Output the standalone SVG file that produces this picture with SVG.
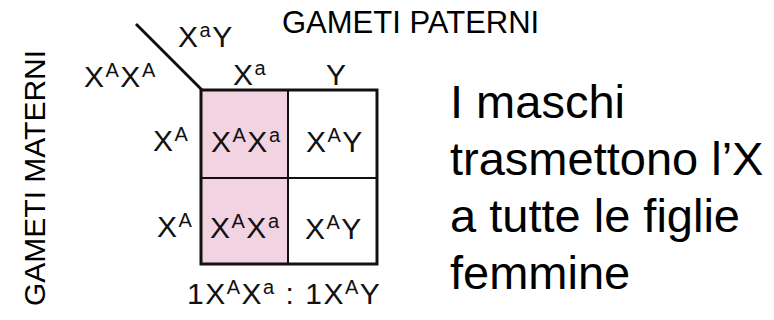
<svg xmlns="http://www.w3.org/2000/svg" width="774" height="320" viewBox="0 0 774 320">
<style>
.t{font-family:"Liberation Sans",Arial,sans-serif;fill:#000}
.lab{font-family:"Liberation Sans",Arial,sans-serif;font-size:30px;letter-spacing:1.5px;fill:#111}
.sup{font-size:20px}
.big{font-size:47px}
.hd{font-size:31px}
.vd{font-size:30px}
.ln{stroke:#111;fill:none}
</style>
<rect width="774" height="320" fill="#fff"/>
<g id="headings">
<text class="t hd" x="282" y="33">GAMETI PATERNI</text>
<text class="t vd" transform="translate(45,306) rotate(-90)">GAMETI MATERNI</text>
</g>
<g id="grid">
<rect x="201" y="90" width="87" height="174" fill="#f2d3e2"/>
<rect x="201" y="90" width="176" height="174" class="ln" stroke-width="3"/>
<line x1="288" y1="90" x2="288" y2="264" class="ln" stroke-width="2"/>
<line x1="201" y1="178" x2="377" y2="178" class="ln" stroke-width="2"/>
<line x1="136" y1="24" x2="202" y2="90" class="ln" stroke-width="3"/>
</g>
<g id="labels">
<text class="lab" x="178" y="47">X<tspan class="sup" dy="-10">a</tspan><tspan dy="10">Y</tspan></text>
<text class="lab" x="84" y="87">X<tspan class="sup" dy="-10">A</tspan><tspan dy="10">X</tspan><tspan class="sup" dy="-10">A</tspan></text>
<text class="lab" x="233" y="85">X<tspan class="sup" dy="-10">a</tspan></text>
<text class="lab" x="326" y="85">Y</text>
<text class="lab" x="153" y="151">X<tspan class="sup" dy="-10">A</tspan></text>
<text class="lab" x="157" y="237">X<tspan class="sup" dy="-10">A</tspan></text>
</g>
<g id="cells">
<text class="lab" x="211" y="152">X<tspan class="sup" dy="-10">A</tspan><tspan dy="10">X</tspan><tspan class="sup" dy="-10">a</tspan></text>
<text class="lab" x="306" y="152">X<tspan class="sup" dy="-10">A</tspan><tspan dy="10">Y</tspan></text>
<text class="lab" x="210" y="238">X<tspan class="sup" dy="-10">A</tspan><tspan dy="10">X</tspan><tspan class="sup" dy="-10">a</tspan></text>
<text class="lab" x="305" y="239">X<tspan class="sup" dy="-10">A</tspan><tspan dy="10">Y</tspan></text>
</g>
<g id="ratio">
<text class="lab" x="187" y="304">1X<tspan class="sup" dy="-10">A</tspan><tspan dy="10">X</tspan><tspan class="sup" dy="-10">a</tspan><tspan dy="10"> : 1X</tspan><tspan class="sup" dy="-10">A</tspan><tspan dy="10">Y</tspan></text>
</g>
<g id="note">
<text class="t big" x="450" y="118">I maschi</text>
<text class="t big" x="450" y="175">trasmettono l’X</text>
<text class="t big" x="450" y="232">a tutte le figlie</text>
<text class="t big" x="450" y="289">femmine</text>
</g>
</svg>
